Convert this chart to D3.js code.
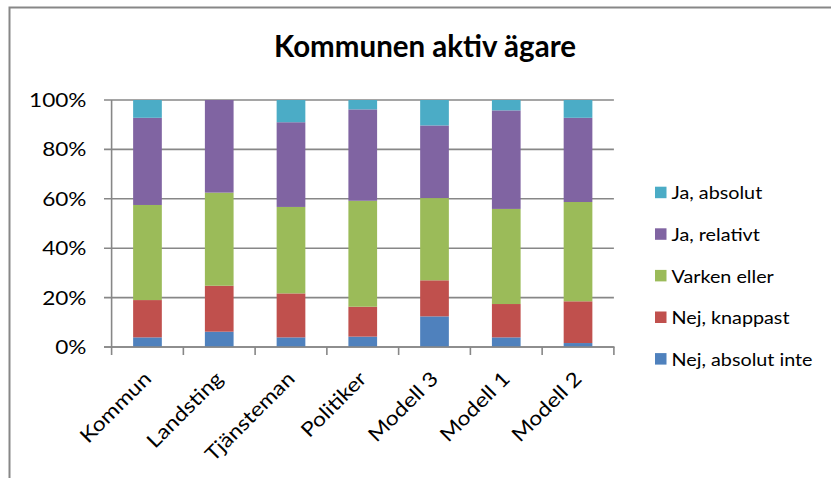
<!DOCTYPE html>
<html><head><meta charset="utf-8">
<script src="https://cdn.jsdelivr.net/npm/d3@7"></script>
<style>body{margin:0;background:#fff}svg{display:block}text{font-family:Lato,"Open Sans",sans-serif}</style>
</head><body>
<script>
const categories = ["Kommun","Landsting","Tjänsteman","Politiker","Modell 3","Modell 1","Modell 2"];
const seriesNames = ["Nej, absolut inte","Nej, knappast","Varken eller","Ja, relativt","Ja, absolut"];
const nejAbsolutInte = [3.9, 6.2, 3.9, 4.2, 12.4, 3.9, 1.6];
const nejKnappast    = [15.1, 18.6, 17.8, 12.1, 14.6, 13.5, 16.9];
const varkenEller    = [38.5, 37.7, 35.0, 42.9, 33.3, 38.5, 40.2];
const jaRelativt     = [35.3, 37.5, 34.3, 37.0, 29.4, 39.9, 34.1];
const jaAbsolut      = [7.2, 0.0, 9.0, 3.8, 10.3, 4.2, 7.2];
const colors = ["#4F81BD","#C0504D","#9BBB59","#8064A2","#4BACC6"];
const yTicks = [0,20,40,60,80,100];

const W=831,H=478;
const svg=d3.select("body").append("svg").attr("width",W).attr("height",H);
// frame
svg.append("path").attr("d","M9.5,478 V7.5 H831").attr("fill","none").attr("stroke","#878787").attr("stroke-width",2);

svg.append("text").attr("x",425).attr("y",57).attr("text-anchor","middle")
  .attr("font-size",29.5).attr("font-weight",700).attr("fill","#000").text("Kommunen aktiv ägare");

const x=d3.scaleBand().domain(categories).range([111.6,613.9]).paddingInner(0.6).paddingOuter(0.3);
const y=d3.scaleLinear().domain([0,100]).range([347,100]);

const data=categories.map((c,i)=>({cat:c,v:[nejAbsolutInte[i],nejKnappast[i],varkenEller[i],jaRelativt[i],jaAbsolut[i]]}));
const table=data.map(d=>{const o={cat:d.cat};seriesNames.forEach((s,k)=>o[s]=d.v[k]);return o;});
const tot=data.map(d=>d3.sum(d.v));
const norm=table.map((o,i)=>{const r={cat:o.cat};seriesNames.forEach(s=>r[s]=o[s]/tot[i]*100);return r;});
const stack=d3.stack().keys(seriesNames)(norm);

// gridlines
const grid=svg.append("g");
yTicks.forEach(t=>{
  grid.append("line").attr("x1",104).attr("x2",613.9).attr("y1",y(t)).attr("y2",y(t))
   .attr("stroke","#878787").attr("stroke-width",1.6);
});
// y labels
svg.append("g").selectAll("text").data(yTicks).join("text")
  .attr("transform",d=>`translate(86.5,${y(d)}) scale(1.16,1)`)
  .attr("dy","0.36em").attr("text-anchor","end")
  .attr("font-size",19.5).attr("fill","#000").text(d=>d+"%");

// bars
svg.append("g").selectAll("g").data(stack).join("g").attr("fill",(d,i)=>colors[i])
 .selectAll("rect").data(d=>d).join("rect")
 .attr("x",d=>x(d.data.cat)).attr("width",x.bandwidth())
 .attr("y",d=>y(d[1])).attr("height",d=>Math.max(0,y(d[0])-y(d[1])));

// axes lines
const step=x.step();
svg.append("line").attr("x1",111.6).attr("x2",111.6).attr("y1",100).attr("y2",347.8).attr("stroke","#878787").attr("stroke-width",1.6);
svg.append("line").attr("x1",104).attr("x2",614.6).attr("y1",347).attr("y2",347).attr("stroke","#878787").attr("stroke-width",1.6);
d3.range(categories.length+1).forEach(i=>{
  const xx=111.6+i*step;
  svg.append("line").attr("x1",xx).attr("x2",xx).attr("y1",347).attr("y2",355).attr("stroke","#878787").attr("stroke-width",1.6);
});

// x labels
svg.append("g").selectAll("text").data(categories).join("text")
  .attr("text-anchor","end").attr("font-size",20).attr("fill","#000")
  .attr("transform",d=>`translate(${x(d)+x.bandwidth()/2+5},${380}) rotate(-45) scale(1.15,1)`)
  .text(d=>d);

// legend
const lg=svg.append("g");
const legendOrder=[4,3,2,1,0];
legendOrder.forEach((k,j)=>{
  const by=199.3+j*41.6;
  lg.append("rect").attr("x",655).attr("y",by-12.6).attr("width",11.5).attr("height",11.5).attr("fill",colors[k]);
  lg.append("text").attr("transform",`translate(671.5,${by}) scale(1.13,1)`).attr("font-size",17.5).attr("fill","#000").text(seriesNames[k]);
});
</script>
</body></html>
